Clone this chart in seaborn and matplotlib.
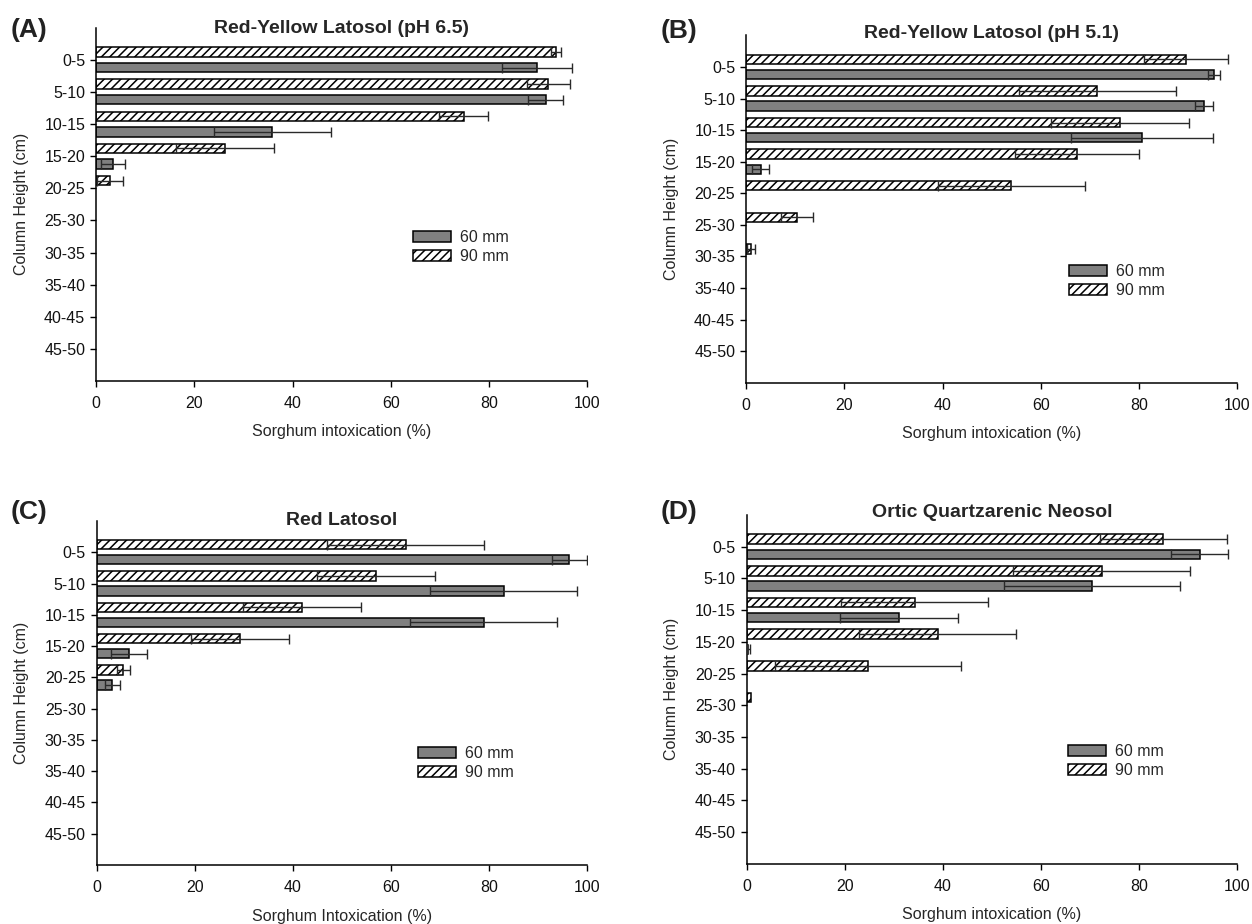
import pandas as pd
import matplotlib
matplotlib.use("Agg")
import matplotlib.pyplot as plt
import matplotlib.patches as mpatches
import seaborn as sns

# Depth classes (y categories)
depths = ["0-5", "5-10", "10-15", "15-20", "20-25", "25-30", "30-35", "35-40", "40-45", "45-50"]

# (A) Red-Yellow Latosol (pH 6.5)
a_60 = [89.8, 91.6, 35.9, 3.4, 0, 0, 0, 0, 0, 0]
a_60_err = [7.1, 3.6, 12.0, 2.5, 0, 0, 0, 0, 0, 0]
a_90 = [93.6, 92.1, 74.9, 26.3, 2.8, 0, 0, 0, 0, 0]
a_90_err = [1.0, 4.4, 5.0, 10.0, 2.7, 0, 0, 0, 0, 0]

# (B) Red-Yellow Latosol (pH 5.1)
b_60 = [95.3, 93.3, 80.7, 2.9, 0, 0, 0, 0, 0, 0]
b_60_err = [1.2, 1.8, 14.5, 1.7, 0, 0, 0, 0, 0, 0]
b_90 = [89.6, 71.5, 76.1, 67.4, 54.0, 10.3, 1.0, 0, 0, 0]
b_90_err = [8.6, 16.0, 14.1, 12.6, 15.0, 3.2, 0.8, 0, 0, 0]

# (C) Red Latosol
c_60 = [96.4, 83.0, 78.9, 6.6, 3.2, 0, 0, 0, 0, 0]
c_60_err = [3.6, 15.0, 15.0, 3.6, 1.5, 0, 0, 0, 0, 0]
c_90 = [63.0, 56.9, 41.9, 29.3, 5.4, 0, 0, 0, 0, 0]
c_90_err = [16.0, 12.0, 12.0, 10.0, 1.3, 0, 0, 0, 0, 0]

# (D) Ortic Quartzarenic Neosol
d_60 = [92.4, 70.4, 31.1, 0.3, 0, 0, 0, 0, 0, 0]
d_60_err = [5.8, 18.0, 12.0, 0.3, 0, 0, 0, 0, 0, 0]
d_90 = [85.0, 72.4, 34.3, 39.0, 24.8, 0.8, 0, 0, 0, 0]
d_90_err = [13.0, 18.0, 15.0, 16.0, 19.0, 0, 0, 0, 0, 0]

W, H = 1252, 924

def fx(x):
    return x / W

def fy(y):
    return 1 - y / H

sns.set_style("ticks")
plt.rcParams["font.family"] = ["Liberation Sans", "DejaVu Sans"]
plt.rcParams["hatch.linewidth"] = 1.1
plt.rcParams["hatch.color"] = "black"

fig = plt.figure(figsize=(W / 100, H / 100), dpi=100)

panels = [
    # label, title, xlabel, 60, 60err, 90, 90err, axes box (l, r, top, bottom), legend (x, top)
    ("(A)", "Red-Yellow Latosol (pH 6.5)", "Sorghum intoxication (%)",
     a_60, a_60_err, a_90, a_90_err, (96.3, 587, 27.7, 381), (413, 230)),
    ("(B)", "Red-Yellow Latosol (pH 5.1)", "Sorghum intoxication (%)",
     b_60, b_60_err, b_90, b_90_err, (746.3, 1237, 35.4, 382.7), (1069, 264)),
    ("(C)", "Red Latosol", "Sorghum Intoxication (%)",
     c_60, c_60_err, c_90, c_90_err, (96.7, 587, 521, 865), (418, 746)),
    ("(D)", "Ortic Quartzarenic Neosol", "Sorghum intoxication (%)",
     d_60, d_60_err, d_90, d_90_err, (746.7, 1237, 515, 863.7), (1068, 744)),
]

title_base = [33, 38, 525, 517]
label_base = [37.5, 38, 519.5, 519.5]

gray = "#808080"

for i, (lab, title, xlab, v60, e60, v90, e90, box, leg) in enumerate(panels):
    l, r, t, b = box
    ax = fig.add_axes([fx(l), fy(b), (r - l) / W, (b - t) / H])

    df = pd.DataFrame({
        "depth": depths * 2,
        "treatment": ["90 mm"] * len(depths) + ["60 mm"] * len(depths),
        "value": v90 + v60,
    })
    sns.barplot(data=df, x="value", y="depth", hue="treatment",
                hue_order=["90 mm", "60 mm"], order=depths, orient="h",
                palette={"90 mm": "white", "60 mm": gray}, saturation=1,
                width=0.96, gap=0.375, errorbar=None, edgecolor="black",
                linewidth=1.1, legend=False, ax=ax)

    errs = {"90 mm": e90, "60 mm": e60}
    for cont, name in zip(ax.containers, ["90 mm", "60 mm"]):
        xs, ys, es = [], [], []
        for rect, err in zip(cont.patches, errs[name]):
            if name == "90 mm":
                rect.set_hatch("////")
            if rect.get_width() <= 0:
                rect.set_visible(False)
            if err > 0:
                xs.append(rect.get_width())
                ys.append(rect.get_y() + rect.get_height() / 2)
                es.append(err)
        ax.errorbar(xs, ys, xerr=es, fmt="none", ecolor="#2a2a2a",
                    elinewidth=1.0, capsize=3.6, capthick=1.0, zorder=5)

    ax.set_xlim(0, 100)
    ax.set_ylim(10, -1)
    ax.set_xticks([0, 20, 40, 60, 80, 100])
    ax.set_xlabel("")
    ax.set_ylabel("")
    sns.despine(ax=ax)
    for s in ["left", "bottom"]:
        ax.spines[s].set_linewidth(1.1)
        ax.spines[s].set_color("black")
    ax.tick_params(axis="both", direction="out", length=4, width=1.0,
                   color="black", labelsize=11.5, labelcolor="#111111")
    ax.tick_params(axis="x", pad=7)
    ax.tick_params(axis="y", pad=4)

    handles = [
        mpatches.Patch(facecolor=gray, edgecolor="black", linewidth=1.1, label="60 mm"),
        mpatches.Patch(facecolor="white", edgecolor="black", linewidth=1.1,
                       hatch="////", label="90 mm"),
    ]
    ax.legend(handles=handles, loc="upper left", bbox_to_anchor=(fx(leg[0]), fy(leg[1])),
              bbox_transform=fig.transFigure, frameon=False, borderpad=0,
              borderaxespad=0, handlelength=2.4, handleheight=0.65,
              handletextpad=0.55, labelspacing=0.25, fontsize=11.5)

    cx = (l + r) / 2
    cy = (t + b) / 2
    fig.text(fx(cx), fy(title_base[i]), title, ha="center", va="baseline",
             fontsize=14, fontweight="bold")
    fig.text(fx(l - 86), fy(label_base[i]), lab, ha="left", va="baseline",
             fontsize=19, fontweight="bold", color="#222222")
    fig.text(fx(l - 75), fy(cy), "Column Height (cm)", rotation=90,
             ha="center", va="center", fontsize=11.5)
    fig.text(fx(cx), fy(b + 51), xlab, ha="center", va="center", fontsize=11.5)

fig.savefig("out.png", dpi=100)
